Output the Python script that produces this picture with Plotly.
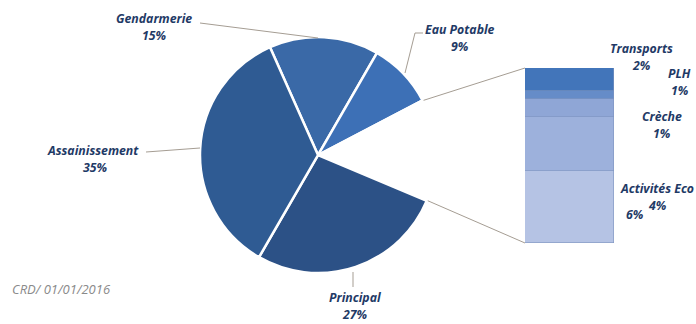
import math
import plotly.graph_objects as go

W, H = 696, 324

# ---- data ----
pie_labels = ["Gendarmerie", "Eau Potable", "Autres", "Principal", "Assainissement"]
bar_names = ["", "Activités Eco", "Crèche", "PLH", "Transports"]   # bottom -> top
bar_values = [5.8, 4.3, 1.4, 0.7, 1.8]
bar_pct_text = ["6%", "4%", "1%", "1%", "2%"]
pie_main_values = [15, 9, 27, 35]   # Gendarmerie, Eau Potable, Principal, Assainissement
pie_values = [pie_main_values[0], pie_main_values[1], sum(bar_values),
              pie_main_values[2], pie_main_values[3]]
pie_pct_text = ["15%", "9%", "", "27%", "35%"]
source_note = "CRD/ 01/01/2016"

# ---- styles ----
pie_colors = ["#3a69a7", "#3d70b6", "rgba(255,255,255,0)", "#2c5186", "#2f5b93"]
bar_colors = ["#b5c3e4", "#9db1dc", "#8fa6d6", "#668cc8", "#4275ba"]
txt_color = "#1f3a66"
line_color = "#a59d93"
lab_font = dict(family="Open Sans", size=12.3, color=txt_color, style="italic", weight="bold")

def px(x):
    return x / W

def py(y):
    return 1 - y / H

# pie geometry (pixels)
cx, cy, r = 318, 155, 118
rotation = -24

# bar geometry (pixels)
bx0, bx1, by0, by1 = 525, 614, 68, 243

fig = go.Figure()

fig.add_trace(go.Pie(
    labels=pie_labels, values=pie_values, sort=False, direction="clockwise",
    rotation=rotation, textinfo="none", hoverinfo="label+percent",
    marker=dict(colors=pie_colors, line=dict(color="white", width=2.5)),
    domain=dict(x=[px(cx - r), px(cx + r)], y=[py(cy + r), py(cy - r)]),
    showlegend=False,
))

for name, val, col in zip(bar_names, bar_values, bar_colors):
    fig.add_trace(go.Bar(
        x=["Autres"], y=[val], name=name or "Autres",
        marker=dict(color=col, line=dict(color="#7f95c0", width=0.6)),
        showlegend=False, width=1,
    ))

total = sum(pie_values)

def pie_point(cum):
    ang = math.radians(rotation + 360 * cum / total)
    return cx + r * math.sin(ang), cy - r * math.cos(ang)

# connector lines from the "Autres" slice edges to the bar corners
cum_start = pie_values[0] + pie_values[1]
cum_end = cum_start + pie_values[2]
p_top = pie_point(cum_start)
p_bot = pie_point(cum_end)

shapes = []
def seg(points):
    path = "M " + " L ".join(f"{px(x)},{py(y)}" for x, y in points)
    shapes.append(dict(type="path", path=path, xref="paper", yref="paper",
                       line=dict(color=line_color, width=1)))

seg([(p_top[0] + 1, p_top[1]), (bx0, by0)])
seg([(p_bot[0] + 1, p_bot[1]), (bx0, by1)])

# leader lines for pie labels
seg([(200, 23), (318, 38)])
seg([(423, 33), (415, 33), (405, 73)])
seg([(146, 152), (200, 148)])
seg([(353, 272), (353, 287)])

annotations = []
def label(x, y, text, font=lab_font, xanchor="center"):
    annotations.append(dict(x=px(x), y=py(y), xref="paper", yref="paper",
                            text=text, showarrow=False, font=font, borderpad=0,
                            xanchor=xanchor, yanchor="middle"))

label(154, 18, pie_labels[0])
label(154, 35, pie_pct_text[0])
label(460, 30, pie_labels[1])
label(460, 47, pie_pct_text[1])
label(93, 150, pie_labels[4])
label(95, 167, pie_pct_text[4])
label(355, 297, pie_labels[3])
label(355, 314, pie_pct_text[3])

# bar labels (top -> bottom)
label(641, 48, bar_names[4])
label(641, 65, bar_pct_text[4])
label(679, 73, bar_names[3])
label(680, 90, bar_pct_text[3])
label(662, 116, bar_names[2])
label(662, 133, bar_pct_text[2])
label(695, 188, bar_names[1], xanchor="right")
label(657, 205, bar_pct_text[1])
label(635, 214, bar_pct_text[0])

label(61, 289, source_note,
      font=dict(family="Open Sans", size=13, color="#8a8a8a", style="italic"))

fig.update_layout(
    width=W, height=H, margin=dict(l=0, r=0, t=0, b=0),
    paper_bgcolor="white", plot_bgcolor="rgba(0,0,0,0)",
    barmode="stack", bargap=0,
    xaxis=dict(domain=[px(bx0), px(bx1)], visible=False, fixedrange=True),
    yaxis=dict(domain=[py(by1), py(by0)], range=[0, sum(bar_values)],
               visible=False, fixedrange=True),
    shapes=shapes, annotations=annotations,
)

fig.write_html("out.html")
